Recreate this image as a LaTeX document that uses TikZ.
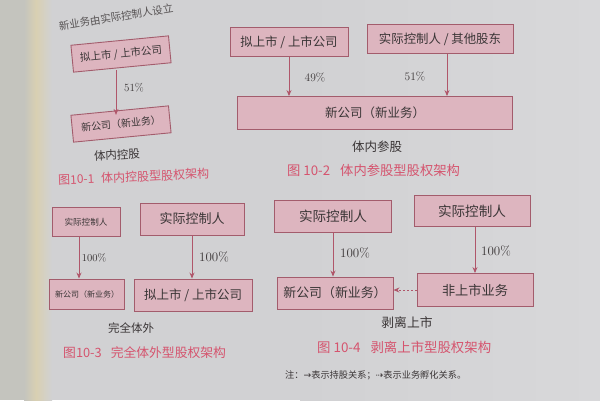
\documentclass[tikz,border=0pt]{standalone}
\usepackage{fontspec}
\newfontfamily\cjk{Noto Sans CJK SC}
\newfontfamily\djv{DejaVu Sans}
\usetikzlibrary{arrows.meta,calc}
\definecolor{paper}{HTML}{D1D1D3}
\definecolor{paperlight}{HTML}{D8D8DA}
\definecolor{bind}{HTML}{C4C4BE}
\definecolor{bindy}{HTML}{D9D0B2}
\definecolor{boxfill}{HTML}{DDB5BF}
\definecolor{boxdraw}{HTML}{A35C6C}
\definecolor{arr}{HTML}{B0566A}
\definecolor{cap}{HTML}{D5546E}
\definecolor{ink}{HTML}{3A3536}
\tikzset{
  box/.style={draw=boxdraw, fill=boxfill, line width=0.9pt, inner sep=0pt, text=ink},
  hold/.style={draw=arr, line width=0.8pt, -{Stealth[length=6pt,width=5pt]}},
  incub/.style={draw=arr, line width=0.8pt, dash pattern=on 2pt off 2pt, -{Stealth[length=6pt,width=5pt]}},
  pct/.style={text=ink, inner sep=0pt},
  lbl/.style={text=ink, inner sep=0pt},
  capt/.style={text=cap, inner sep=0pt}
}
\begin{document}
\begin{tikzpicture}[x=1pt,y=-1pt]
\useasboundingbox (0,0) rectangle (600,400);
% paper
\fill[paper] (0,0) rectangle (600,400);
\shade[left color=paper, right color=paperlight] (300,0) rectangle (600,400);
\fill[bind] (0,0) rectangle (28,400);
\shade[left color=bind, right color=bindy] (24,0) rectangle (36,400);
\shade[left color=bindy, right color=paper] (36,0) rectangle (52,400);
% partial text at top
\node[lbl, rotate=9, font=\cjk\fontsize{10.5}{10.5}\selectfont, text=ink!85] (toptext) at (116,17) {新业务由实际控制人设立};

% ---------- Fig 10-1 ----------
\node[box, rotate=5.5, minimum width=98, minimum height=27, font=\cjk\fontsize{10.5}{10.5}\selectfont] (a1) at (121,54) {拟上市 / 上市公司};
\node[box, rotate=5.5, minimum width=98, minimum height=27, font=\cjk\fontsize{10}{10}\selectfont] (a2) at (121,124) {新公司（新业务）};
\coordinate (a1s) at (116,70);
\draw[hold] (a1s) -- (a1s |- a2.north west);
\node[pct, font=\fontsize{11}{11}\selectfont] (p1) at (134,88) {51\%};
\node[lbl, rotate=3, font=\cjk\fontsize{11.5}{11.5}\selectfont] (l1) at (117,155) {体内控股};
\node[capt, rotate=2.5, anchor=west, font=\cjk\fontsize{12}{12}\selectfont] (c1) at (58,180) {图10-1\hspace{7pt}体内控股型股权架构};

% ---------- Fig 10-2 ----------
\node[box, minimum width=118, minimum height=29, font=\cjk\fontsize{12.4}{12.4}\selectfont] (b1) at (289,42) {拟上市 / 上市公司};
\node[box, minimum width=146, minimum height=29, font=\cjk\fontsize{12.4}{12.4}\selectfont] (b2) at (440,39) {实际控制人 / 其他股东};
\node[box, minimum width=275, minimum height=33, font=\cjk\fontsize{12.5}{12.5}\selectfont] (b3) at (375,113) {新公司（新业务）};
\coordinate (b2s) at ([xshift=7pt]b2.south);
\draw[hold] (b1.south) -- (b1.south |- b3.north);
\draw[hold] (b2s) -- (b2s |- b3.north);
\node[pct, font=\fontsize{11.5}{11.5}\selectfont] (p2a) at (315,78) {49\%};
\node[pct, font=\fontsize{11.5}{11.5}\selectfont] (p2b) at (415,77) {51\%};
\node[lbl, font=\cjk\fontsize{12.5}{12.5}\selectfont] (l2) at (377,147) {体内参股};
\node[capt, anchor=west, font=\cjk\fontsize{13.3}{13.3}\selectfont] (c2) at (287,170) {图 10-2\hspace{10pt}体内参股型股权架构};

% ---------- Fig 10-3 ----------
\node[box, minimum width=68, minimum height=29, font=\cjk\fontsize{8.6}{8.6}\selectfont] (d1) at (86,222) {实际控制人};
\node[box, minimum width=104, minimum height=32, font=\cjk\fontsize{13}{13}\selectfont] (d2) at (192,219) {实际控制人};
\node[box, minimum width=75, minimum height=30, font=\cjk\fontsize{8}{8}\selectfont] (d3) at (87,294) {新公司（新业务）};
\node[box, minimum width=118, minimum height=32, font=\cjk\fontsize{12.5}{12.5}\selectfont] (d4) at (193,295) {拟上市 / 上市公司};
\coordinate (d1s) at ([xshift=-7pt]d1.south);
\draw[hold] (d1s) -- (d1s |- d3.north);
\draw[hold] (d2.south) -- (d2.south |- d4.north);
\node[pct, font=\fontsize{10.5}{10.5}\selectfont] (p3a) at (94,258) {100\%};
\node[pct, font=\fontsize{13}{13}\selectfont] (p3b) at (214,257) {100\%};
\node[lbl, font=\cjk\fontsize{11.5}{11.5}\selectfont] (l3) at (131,328) {完全体外};
\node[capt, anchor=west, font=\cjk\fontsize{12.8}{12.8}\selectfont] (c3) at (63,353) {图10-3\hspace{9pt}完全体外型股权架构};

% ---------- Fig 10-4 ----------
\node[box, minimum width=117, minimum height=32, font=\cjk\fontsize{13.6}{13.6}\selectfont] (e1) at (333,216) {实际控制人};
\node[box, minimum width=116, minimum height=31, font=\cjk\fontsize{13.6}{13.6}\selectfont] (e2) at (472,211) {实际控制人};
\node[box, minimum width=116, minimum height=32, font=\cjk\fontsize{12.9}{12.9}\selectfont] (e3) at (335,293) {新公司（新业务）};
\node[box, minimum width=116, minimum height=33, font=\cjk\fontsize{13.2}{13.2}\selectfont] (e4) at (475,290) {非上市业务};
\coordinate (e2s) at ([xshift=3pt]e2.south);
\draw[hold] (e1.south) -- (e1.south |- e3.north);
\draw[hold] (e2s) -- (e2s |- e4.north);
\draw[incub] (e4.west) -- (e4.west -| e3.east);
\node[pct, font=\fontsize{13}{13}\selectfont] (p4a) at (355,253) {100\%};
\node[pct, font=\fontsize{13}{13}\selectfont] (p4b) at (496,251) {100\%};
\node[lbl, font=\cjk\fontsize{12.8}{12.8}\selectfont] (l4) at (407,323) {剥离上市};
\node[capt, anchor=west, font=\cjk\fontsize{13.4}{13.4}\selectfont] (c4) at (317,347) {图 10-4\hspace{10pt}剥离上市型股权架构};
\node[lbl, anchor=west, font=\cjk\fontsize{9.2}{9.2}\selectfont] (note) at (285,375) {注：{\djv →}表示持股关系；{\djv ⇢}表示业务孵化关系。};
\end{tikzpicture}
\end{document}
